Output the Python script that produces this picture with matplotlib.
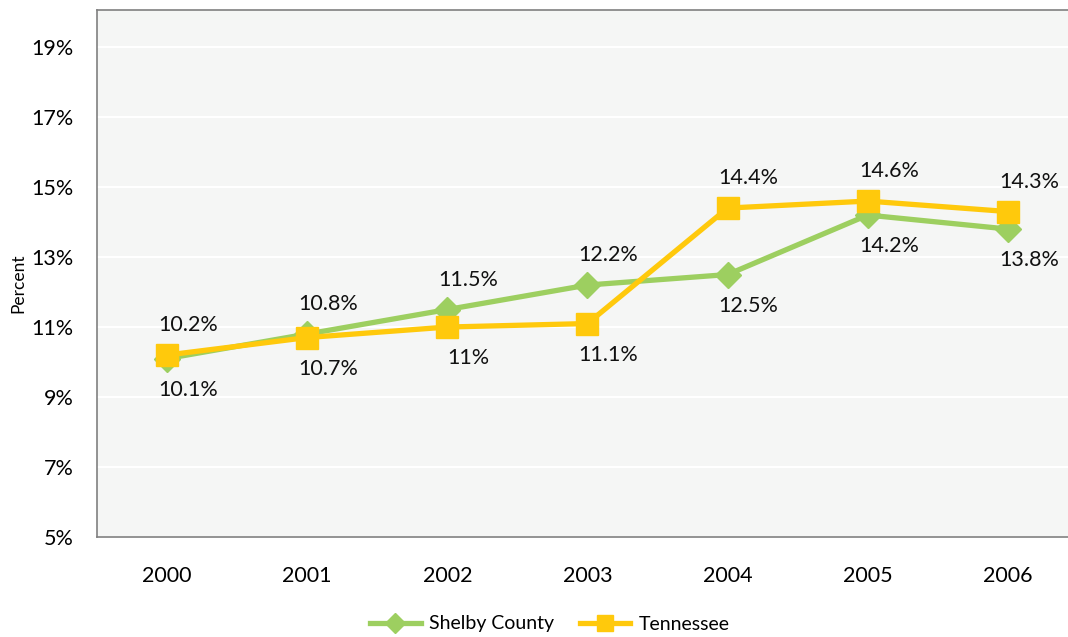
import matplotlib
matplotlib.use("Agg")
import matplotlib.pyplot as plt

years = ["2000", "2001", "2002", "2003", "2004", "2005", "2006"]
shelby = [10.1, 10.8, 11.5, 12.2, 12.5, 14.2, 13.8]
tennessee = [10.2, 10.7, 11.0, 11.1, 14.4, 14.6, 14.3]
shelby_labels = ["10.1%", "10.8%", "11.5%", "12.2%", "12.5%", "14.2%", "13.8%"]
tennessee_labels = ["10.2%", "10.7%", "11%", "11.1%", "14.4%", "14.6%", "14.3%"]
shelby_pos = ["below", "above", "above", "above", "below", "below", "below"]
tennessee_pos = ["above", "below", "below", "below", "above", "above", "above"]
yticks = [5, 7, 9, 11, 13, 15, 17, 19]

plt.rcParams['font.family'] = ['Lato', 'DejaVu Sans']

W, H = 1068, 637
fig = plt.figure(figsize=(W / 100, H / 100), dpi=100)
left, right, top, bottom = 97, 1068, 10, 537
ax = fig.add_axes([left / W, 1 - bottom / H, (right - left) / W, (bottom - top) / H])
ax.set_facecolor('#f5f6f5')

x = list(range(len(years)))
green = '#9dcf60'
yellow = '#ffc90c'

ax.plot(x, shelby, color=green, lw=3.8, marker='D', markersize=13, label='Shelby County', zorder=3)
ax.plot(x, tennessee, color=yellow, lw=3.8, marker='s', markersize=16, label='Tennessee', zorder=4)

for xi, v, lab, pos in zip(x, shelby, shelby_labels, shelby_pos):
    dy = 30 if pos == 'above' else -31
    ax.annotate(lab, (xi, v), xytext=(21, dy), textcoords='offset pixels',
                ha='center', va='center', fontsize=15.5, color='#111111', zorder=5)
for xi, v, lab, pos in zip(x, tennessee, tennessee_labels, tennessee_pos):
    dy = 30 if pos == 'above' else -31
    ax.annotate(lab, (xi, v), xytext=(21, dy), textcoords='offset pixels',
                ha='center', va='center', fontsize=15.5, color='#111111', zorder=5)

ax.set_xlim(-0.5, 6.5 - 10 / 140.5)
ax.set_ylim(5, 20.06)
ax.set_yticks(yticks)
ax.set_yticklabels([f"{t}%" for t in yticks], fontsize=15.5)
ax.set_xticks(x)
ax.set_xticklabels(years, fontsize=15.5)
ax.tick_params(length=0)
ax.tick_params(axis='y', pad=17)
ax.tick_params(axis='x', pad=21)
ax.grid(axis='y', color='white', lw=1.5)
ax.set_axisbelow(True)
for s in ['left', 'bottom', 'top']:
    ax.spines[s].set_color('#808080')
    ax.spines[s].set_linewidth(1.2)
ax.spines['right'].set_visible(False)

fig.text(18 / W, 1 - 283 / H, 'Percent', rotation=90, ha='center', va='center', fontsize=12.5)

leg = fig.legend(loc='center', bbox_to_anchor=(550 / W, 1 - 624 / H), ncol=2, frameon=False,
                 fontsize=14, handlelength=2.6, columnspacing=1.3, handletextpad=0.45, markerscale=0.75)

fig.savefig('out.png', dpi=100)
